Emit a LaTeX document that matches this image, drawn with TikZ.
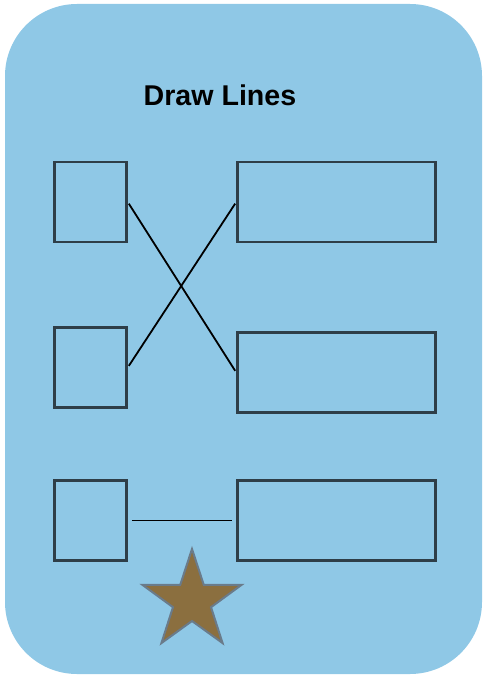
\documentclass[tikz,border=0pt]{standalone}
\usepackage{fontspec}
\setmainfont{Liberation Sans}
\usepackage{xcolor}
\usetikzlibrary{shapes.geometric}
\definecolor{panel}{HTML}{8FC8E6}
\definecolor{boxline}{HTML}{2E3E48}
\definecolor{starfill}{HTML}{8B6F3F}
\definecolor{starline}{HTML}{6A7B8A}

\begin{document}
\begin{tikzpicture}[x=1pt,y=-1pt,
 small/.style={draw=boxline,line width=2.5pt,inner sep=0pt,minimum width=72pt,minimum height=80pt},
 wide/.style={draw=boxline,line width=2.5pt,inner sep=0pt,minimum width=198pt,minimum height=80pt},
 link/.style={black,line width=1.8pt,shorten <=2pt,shorten >=2pt}]
\useasboundingbox (0,0) rectangle (482,676);
\fill[panel,rounded corners=72pt] (5,4) rectangle (482,674);
\node[font=\bfseries\fontsize{28.6}{30}\selectfont] (title) at (220,95) {Draw Lines};
\node[small] (l1) at (90.5,202) {};
\node[small] (l2) at (90.5,367.5) {};
\node[small] (l3) at (90.5,520.5) {};
\node[wide] (r1) at (336.5,202) {};
\node[wide] (r2) at (336.5,372.5) {};
\node[wide] (r3) at (336.5,520.5) {};
\draw[link] (l1.east)--(r2.west);
\draw[link] (l2.east)--(r1.west);
\draw[link,shorten <=4pt,shorten >=4pt] (l3.east)--(r3.west);
\node[star,star points=5,star point ratio=2.6,minimum size=104pt,inner sep=0pt,
 fill=starfill,draw=starline,line width=2pt] (mark) at (192,601) {};
\end{tikzpicture}
\end{document}
